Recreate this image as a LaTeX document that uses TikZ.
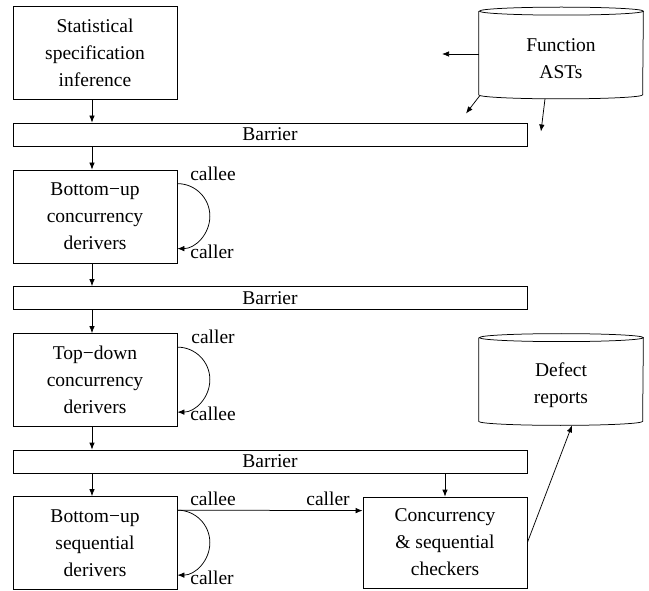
\documentclass[tikz,border=0pt]{standalone}
\usepackage{fontspec}
\setmainfont{Liberation Serif}
\usetikzlibrary{arrows.meta}
\begin{document}
\begin{tikzpicture}[x=1pt,y=1pt,
  font=\fontsize{19.5}{27}\selectfont,
  line width=0.75pt,
  arr/.style={-{Latex[length=7pt,width=5.5pt]}},
  box/.style={draw, rectangle, minimum width=164, minimum height=93, align=center, inner sep=0pt},
  bar/.style={draw, rectangle, minimum width=514, minimum height=23, inner sep=0pt},
  cyl/.style={rectangle, minimum width=164, minimum height=91, inner sep=0pt},
  lbl/.style={inner sep=0pt}]
\useasboundingbox (0,0) rectangle (649,-591);
% boxes
\node[box] (b1) at (95,-53) {Statistical\\specification\\inference};
\node[bar] (bar1) at (270,-134.5) {Barrier};
\node[box] (b2) at (95,-216.5) {Bottom−up\\concurrency\\derivers};
\node[bar] (bar2) at (270,-298) {Barrier};
\node[box] (b3) at (95,-380) {Top−down\\concurrency\\derivers};
\node[bar] (bar3) at (270,-461.5) {Barrier};
\node[box] (b4) at (95,-543) {Bottom−up\\sequential\\derivers};
\node[box, minimum height=91] (b5) at (445,-542.5) {Concurrency\\\& sequential\\checkers};
% cylinders
\node[cyl, label={[yshift=-6,align=center,inner sep=0pt]center:Function\\ASTs}] (ast) at (561,-53) {};
\node[cyl, label={[yshift=-6,align=center,inner sep=0pt]center:Defect\\reports}] (def) at (561,-379.5) {};
\foreach \c in {ast,def}{
  \draw ([yshift=-4]\c.north west) -- ([yshift=4]\c.south west)
    arc[start angle=180,end angle=360,x radius=82,y radius=4]
    -- ([yshift=-4]\c.north east)
    arc[start angle=0,end angle=180,x radius=82,y radius=4]
    arc[start angle=180,end angle=360,x radius=82,y radius=4];
}
% free ends
\coordinate (f1) at (442,-54);
\coordinate (f2) at (466,-113.5);
\coordinate (f3) at (541,-131.5);
\draw[arr] (ast.west |- f1) -- (f1);
\draw[arr] ([xshift=1,yshift=3]ast.south west) -- (f2);
\draw[arr] ([xshift=-16]ast.south) -- (f3);
% vertical flow
\draw[arr] (b1.south -| 92,0) -- (bar1.north -| 92,0);
\draw[arr] (bar1.south -| 92,0) -- (b2.north -| 92,0);
\draw[arr] (b2.south -| 92,0) -- (bar2.north -| 92,0);
\draw[arr] (bar2.south -| 92,0) -- (b3.north -| 92,0);
\draw[arr] (b3.south -| 92,0) -- (bar3.north -| 92,0);
\draw[arr] (bar3.south -| 92,0) -- (b4.north -| 92,0);
\draw[arr] (bar3.south -| b5.north) -- (b5.north);
% loops
\draw[arr] ([yshift=-14]b2.north east) arc[start angle=90,end angle=-90,radius=32.5];
\draw[arr] ([yshift=-14]b3.north east) arc[start angle=90,end angle=-90,radius=32.5];
\draw[arr] ([yshift=-14]b4.north east) arc[start angle=90,end angle=-90,radius=32.5];
\node[lbl] (l1) at (213,-174) {callee};
\node[lbl] (l2) at (212,-252) {caller};
\node[lbl] (l3) at (213,-337) {caller};
\node[lbl] (l4) at (213,-414) {callee};
\node[lbl] (l5) at (213,-499) {callee};
\node[lbl] (l6) at (212,-578) {caller};
% horizontal
\draw[arr] ([yshift=-14]b4.north east) -- ([yshift=-14]b5.north west);
\node[lbl] (l7) at (328,-499) {caller};
% to defects
\draw[arr] (b5.east) -- ([xshift=11]def.south);
\end{tikzpicture}
\end{document}
